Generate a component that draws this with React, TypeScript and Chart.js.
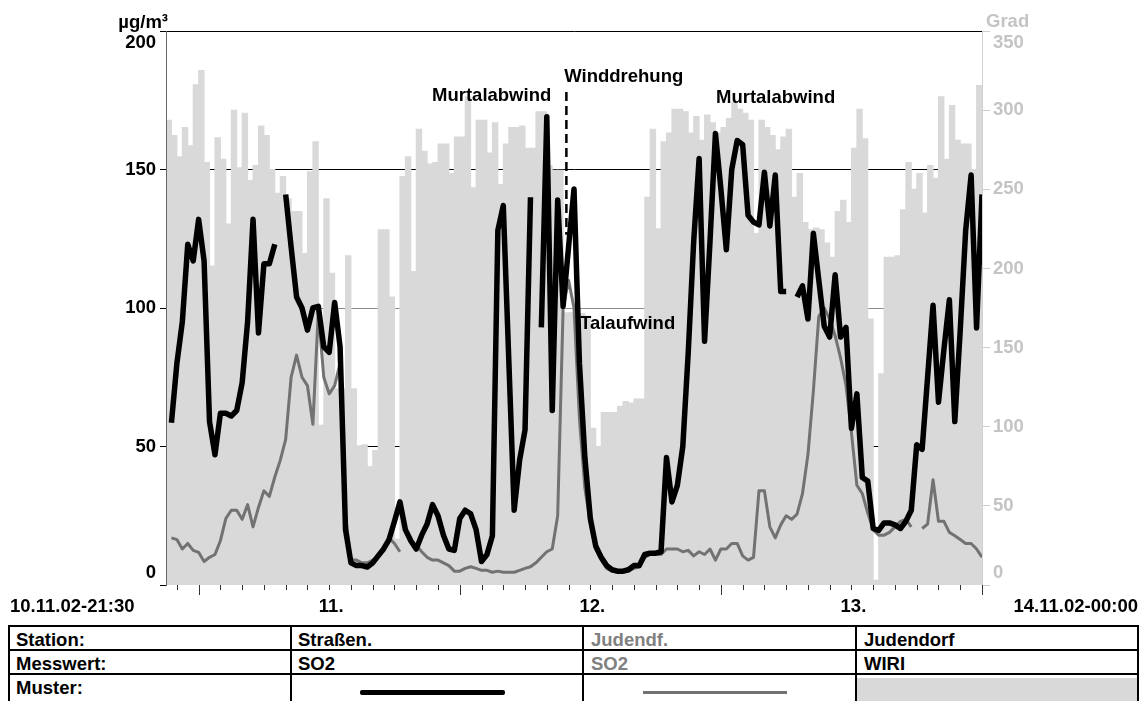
import React, { useEffect, useRef } from 'react';
import { Chart, registerables } from 'chart.js';

Chart.register(...registerables);

// Half-hour values, 10.11.02 21:30 ... 14.11.02 00:00 (150 values)
const strassenSO2: (number | null)[] = [
  58.6, 80, 95, 123, 117, 132, 117, 59, 47, 62,
  62, 61, 63, 73, 95, 132, 91, 116, 116, 123,
  null, 141, 122, 104, 100, 92, 100, 100.6, 86, 84,
  102, 86, 20, 8, 7, 7, 6.5, 8, 10.5, 13,
  16.4, 23, 30, 20, 16, 13, 18, 22, 29, 25,
  18, 13, 12.5, 24, 27, 25.7, 20, 8.5, 11, 17.8,
  128, 137, 82, 27, 45, 56, 140, null, 93, 169,
  63, 139, 100.6, 122, 143, 80, 46, 24, 14, 10,
  7, 5.5, 5, 5, 5.5, 7, 7, 11, 11.5, 11.5,
  12, 46, 30, 36, 50, 84, 124, 154, 88, 124,
  163, 143, 121, 150, 160.5, 159, 133.5, 131, 130, 149,
  129.6, 148, 106, 106, null, 104, 108, 96, 127, 110,
  93.4, 89.5, 112, 89.5, 93, 56.6, 69, 38.8, 37.5, 20.4,
  19.7, 22.4, 22.4, 21.7, 20.4, 23, 27, 50.6, 49, 75,
  101, 66, 85, 103, 59, 92, 128, 148, 92.8, 141,
];

const judendorfSO2: (number | null)[] = [
  17, 16.4, 13, 15, 12.5, 11.8, 8.5, 10, 11, 16,
  24, 27, 27, 23.7, 29, 21, 28, 34, 32, 39,
  45, 52.6, 75, 83, 75, 72, 58, 98.7, 75, 69,
  72, 80, 25, 9, 9, 8, 8, 9, 10.5, 13,
  17, 15, 12, null, null, 14.5, 12, 10, 9, 9,
  8, 7, 5, 5, 6, 6.6, 6, 5.3, 5.3, 4.6,
  5, 4.6, 4.6, 4.6, 5.3, 6, 6.6, 8, 10, 12,
  13, 25, 100, 110, 100, 60, 35, 22, 13, 9,
  6, 5, 4.5, 4.5, 5, 6, 6.5, 10, 11, 11,
  11, 13, 13, 13, 12, 12.5, 10.5, 12, 11, 13,
  9, 13, 13, 15, 15, 10.5, 9, 10, 34, 34,
  21, 17, 21.7, 25, 23.7, 25.6, 33, 47, 70, 97,
  100, 96, 90, 82, 72, 55, 36, 33, 26, 20,
  18, 18, 19, 21, 23, 23.7, 21, null, 20.4, 22,
  38, 23, 23, 19, 17.8, 16.4, 15, 15, 13, 10,
];

const windDirection: number[] = [
  293.6, 284, 270.5, 289, 277.5, 316, 325, 267, 201.5, 282.5,
  269, 228, 300, 263.6, 298, 255.6, 265, 290, 284, 262.5,
  247.5, 258, 244, 236, 236, 209.5, 261, 280, 101, 244,
  197, 124, 124, 208, 124, 88, 88.6, 74.8, 85, 224.5,
  224.5, 182, 29, 258, 270.5, 198, 288, 274, 266, 267,
  278.6, 278.6, 260, 283, 283, 308.5, 251, 293.6, 293.6, 273,
  292, 253, 278.6, 289, 289, 290, 276, 276, 299, 299,
  265, 262, 262, 172, 172, 171.5, 171.5, 170, 99, 87.5,
  109, 109, 109, 113, 116, 115, 117.5, 117.5, 245, 288,
  225, 280, 285.5, 300.5, 300.5, 299, 285.5, 296, 281, 297,
  292, 285.5, 289, 294.7, 305, 300.5, 298, 293.6, 222, 293.6,
  289, 284, 275, 283, 288, 245, 260, 229, 224.5, 225.6,
  224.5, 216, 207, 236, 243, 229, 276, 300.5, 282, 168,
  3, 133.5, 207, 207, 208, 237, 267, 250, 260, 235,
  265, 257, 308.5, 269, 303, 281, 278.6, 278.6, 262.5, 315.5,
];

const dayLabels = ['11.', '12.', '13.'];
const dayLabelSlots = [30, 78, 126]; // noon of each day, in half-hours after 21:00
const startLabel = '10.11.02-21:30';
const endLabel = '14.11.02-00:00';

// annotations: [text, x (half-hours), y (µg/m³ baseline)]
const annotationTexts: [string, number, number][] = [
  ['Murtalabwind', 48.9, 174.7],
  ['Winddrehung', 73.2, 181.6],
  ['Murtalabwind', 101.1, 174],
  ['Talaufwind', 76.1, 92.4],
];
const windShift = { x: 73.6, yTop: 178, yBottom: 126.4 };

const FONT = "'Liberation Sans', Arial, Helvetica, sans-serif";
const FS = 18.5;

const overlayPlugin = {
  id: 'overlay',
  afterDraw(chart: any) {
    const ctx = chart.ctx;
    const xs = chart.scales.x;
    const ys = chart.scales.y;
    const area = chart.chartArea;
    ctx.save();
    // x ticks every 2 h, midnight longer
    ctx.strokeStyle = '#333';
    ctx.lineWidth = 1;
    for (let i = 2; i <= 150; i += 4) {
      const px = Math.round(xs.getPixelForValue(i)) + 0.5;
      const major = (i - 6) % 48 === 0;
      ctx.beginPath();
      ctx.moveTo(px, area.bottom);
      ctx.lineTo(px, area.bottom + (major ? 10 : 5));
      ctx.stroke();
    }
    ctx.font = `bold ${FS}px ${FONT}`;
    ctx.fillStyle = '#000';
    ctx.textBaseline = 'middle';
    ctx.textAlign = 'center';
    dayLabels.forEach((l, k) => {
      ctx.fillText(l, xs.getPixelForValue(dayLabelSlots[k]) + 2, area.bottom + 21.5);
    });
    ctx.textAlign = 'left';
    ctx.fillText(startLabel, 10, area.bottom + 21.5);
    ctx.textAlign = 'right';
    ctx.fillText(endLabel, 1138, area.bottom + 21.5);

    // axis units
    ctx.textBaseline = 'alphabetic';
    ctx.textAlign = 'right';
    ctx.fillText('µg/m³', area.left + 2, area.top - 3);
    ctx.textAlign = 'left';
    ctx.fillStyle = '#c4c4c4';
    ctx.fillText('Grad', area.right + 4, area.top - 4);

    // annotations
    ctx.fillStyle = '#000';
    annotationTexts.forEach(([t, x, y]) => {
      ctx.fillText(t, xs.getPixelForValue(x), ys.getPixelForValue(y));
    });
    ctx.strokeStyle = '#000';
    ctx.lineWidth = 2.5;
    ctx.setLineDash([9, 5]);
    const dx = xs.getPixelForValue(windShift.x);
    ctx.beginPath();
    ctx.moveTo(dx, ys.getPixelForValue(windShift.yTop));
    ctx.lineTo(dx, ys.getPixelForValue(windShift.yBottom));
    ctx.stroke();
    ctx.restore();
  },
};

function ChartBox() {
  const ref = useRef<HTMLCanvasElement | null>(null);
  useEffect(() => {
    if (!ref.current) return;
    const chart = new Chart(ref.current, {
      type: 'bar',
      data: {
        datasets: [
          {
            type: 'line',
            label: 'Straßen. SO2',
            data: strassenSO2.map((v, k) => ({ x: k + 1, y: v })),
            borderColor: '#000',
            borderWidth: 5.5,
            pointRadius: 0,
            tension: 0,
            spanGaps: false,
            borderJoinStyle: 'round',
            yAxisID: 'y',
            order: 0,
          } as any,
          {
            type: 'line',
            label: 'Judendf. SO2',
            data: judendorfSO2.map((v, k) => ({ x: k + 1, y: v })),
            borderColor: '#727272',
            borderWidth: 3,
            pointRadius: 0,
            tension: 0,
            spanGaps: false,
            borderJoinStyle: 'round',
            yAxisID: 'y',
            order: 1,
          } as any,
          {
            type: 'bar',
            label: 'Judendorf WIRI',
            data: windDirection.map((v, k) => ({ x: k + 0.5, y: v })),
            backgroundColor: '#d9d9d9',
            borderWidth: 0,
            barPercentage: 1,
            categoryPercentage: 1,
            inflateAmount: 0.5,
            yAxisID: 'y2',
            order: 2,
          } as any,
        ],
      },
      options: {
        responsive: false,
        animation: false,
        events: [],
        layout: { padding: { top: 31, bottom: 35, left: 0, right: 0 } },
        plugins: { legend: { display: false }, tooltip: { enabled: false } },
        scales: {
          x: { type: 'linear', min: 0, max: 150, offset: false, display: false },
          y: {
            position: 'left',
            min: 0,
            max: 200,
            afterFit: (s: any) => { s.width = 166; },
            ticks: {
              stepSize: 50,
              autoSkip: false,
              color: '#000',
              padding: 4,
              font: { family: FONT, size: FS, weight: 'bold', lineHeight: 1.3 },
              callback: (v: any) => (v === 200 ? ['', '200'] : v === 0 ? ['0', ''] : String(v)),
            },
            grid: {
              drawOnChartArea: true,
              color: (c: any) => {
                const v = c.tick ? c.tick.value : -1;
                if (v === 0) return 'rgba(0,0,0,0)';
                if (v === 100) return '#8c8c8c';
                return '#000';
              },
              lineWidth: 1,
              tickLength: 6,
              tickColor: '#000',
            },
            border: { display: true, color: '#666', width: 1, z: 1 },
          },
          y2: {
            position: 'right',
            min: 0,
            max: 350,
            afterFit: (s: any) => { s.width = 164; },
            ticks: {
              stepSize: 50,
              autoSkip: false,
              color: '#c4c4c4',
              padding: 3,
              font: { family: FONT, size: FS, weight: 'bold', lineHeight: 1.3 },
              callback: (v: any) => (v === 350 ? ['', '350'] : v === 0 ? ['0', ''] : String(v)),
            },
            grid: {
              drawOnChartArea: false,
              tickLength: 8,
              tickColor: '#cfcfcf',
            },
            border: { display: true, color: '#d0d0d0', width: 1, z: 1 },
          },
        },
      } as any,
      plugins: [overlayPlugin],
    });
    return () => chart.destroy();
  }, []);
  return <canvas ref={ref} width={1146} height={620} style={{ position: 'absolute', left: 0, top: 0 }} />;
}

const rowLabels = ['Station:', 'Messwert:', 'Muster:'];
const stationNames = ['Straßen.', 'Judendf.', 'Judendorf'];
const measures = ['SO2', 'SO2', 'WIRI'];
const colEdges = [8, 290, 582, 855, 1137];
const textLeft = [16, 298, 591, 864];
const rowEdges = [625, 649, 673];
const textColors = ['#000', '#808080', '#000'];

function Legend() {
  const font = { fontFamily: FONT, fontWeight: 'bold' as const, fontSize: FS, lineHeight: '24px' };
  const cells: React.ReactNode[] = [];
  const cellText = (txt: string, c: number, r: number, color: string) => (
    <div key={`t${c}-${r}`} style={{ position: 'absolute', left: textLeft[c], top: rowEdges[r] + 3, height: 24, color, whiteSpace: 'nowrap', ...font }}>{txt}</div>
  );
  rowLabels.forEach((l, r) => cells.push(cellText(l, 0, r, '#000')));
  stationNames.forEach((s, k) => cells.push(cellText(s, k + 1, 0, textColors[k])));
  measures.forEach((m, k) => cells.push(cellText(m, k + 1, 1, textColors[k])));
  return (
    <>
      <div style={{ position: 'absolute', left: 856, top: 678, width: 282, height: 30, background: '#d9d9d9' }} />
      {rowEdges.map((y) => (
        <div key={`h${y}`} style={{ position: 'absolute', left: 8, top: y, width: 1131, height: 2, background: '#000' }} />
      ))}
      {colEdges.map((x) => (
        <div key={`v${x}`} style={{ position: 'absolute', left: x, top: 625, width: 2, height: 80, background: '#000' }} />
      ))}
      {cells}
      <div style={{ position: 'absolute', left: 360, top: 690, width: 145, height: 5, background: '#000', borderRadius: 2 }} />
      <div style={{ position: 'absolute', left: 643, top: 691, width: 144, height: 3, background: '#727272' }} />
    </>
  );
}

export default function App() {
  return (
    <div style={{ position: 'absolute', left: 0, top: 0, width: 1146, height: 701, overflow: 'hidden', background: '#fff' }}>
      <ChartBox />
      <Legend />
    </div>
  );
}
